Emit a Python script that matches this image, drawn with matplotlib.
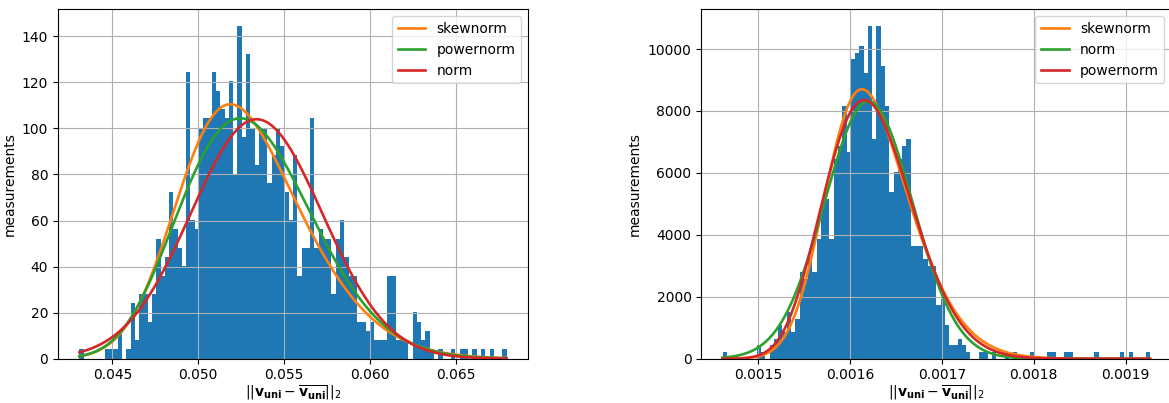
import math
import numpy as np
import matplotlib
matplotlib.use('Agg')
import matplotlib.pyplot as plt

# sample count per run, used to turn bin counts into densities
n_samples = 1000

# left run: 100 bins between min and max of the distances
left_range = (0.04307, 0.06798)
left_counts = np.array([
    1, 0, 0, 0, 0, 0, 1, 1, 1, 3,
    0, 1, 6, 2, 7, 7, 4, 7, 13, 9,
    11, 18, 14, 12, 10, 31, 15, 14, 25, 26,
    26, 31, 29, 27, 26, 30, 20, 36, 24, 33,
    25, 21, 25, 25, 19, 22, 25, 23, 18, 15,
    22, 9, 12, 12, 26, 12, 14, 13, 13, 7,
    13, 15, 11, 9, 9, 4, 4, 3, 4, 2,
    2, 2, 9, 9, 2, 2, 2, 0, 5, 4,
    2, 3, 1, 0, 1, 0, 0, 1, 0, 1,
    1, 0, 1, 0, 1, 0, 1, 0, 0, 1])

# right run
right_range = (0.0014612, 0.0019265)
right_counts = np.array([
    1, 0, 0, 0, 0, 0, 0, 0, 2, 1,
    0, 2, 3, 5, 4, 7, 4, 6, 13, 12,
    15, 13, 18, 23, 24, 18, 30, 32, 38, 31,
    45, 46, 47, 43, 50, 33, 50, 44, 38, 25,
    28, 30, 32, 33, 17, 17, 17, 15, 14, 14,
    8, 9, 5, 2, 2, 3, 2, 1, 0, 0,
    1, 1, 0, 1, 0, 0, 1, 0, 1, 0,
    0, 0, 1, 0, 0, 0, 1, 1, 0, 0,
    1, 1, 0, 0, 0, 0, 0, 1, 0, 0,
    0, 0, 0, 1, 0, 1, 0, 0, 0, 1])

# fitted parameters (shape, loc, scale)
left_fits = [
    ('skewnorm', 2.0, 0.04902, 0.005367),
    ('powernorm', 0.2, 0.04884, 0.00217),
    ('norm', None, 0.0534, 0.003836),
]
right_fits = [
    ('skewnorm', 2.0, 0.0015767, 6.816e-5),
    ('norm', None, 0.00162, 4.8e-5),
    ('powernorm', 0.2, 0.0015701, 2.713e-5),
]

erfc = np.vectorize(math.erfc)


def phi(z):
    return np.exp(-0.5 * z * z) / np.sqrt(2 * np.pi)


def big_phi(z):
    return 0.5 * erfc(-z / np.sqrt(2))


def pdf(name, shape, loc, scale, x):
    z = (x - loc) / scale
    if name == 'norm':
        return phi(z) / scale
    if name == 'skewnorm':
        return 2 * phi(z) * big_phi(shape * z) / scale
    # powernorm
    return shape * phi(z) * big_phi(-z) ** (shape - 1) / scale


def plot_run(ax, rng, counts, fits):
    edges = np.linspace(rng[0], rng[1], len(counts) + 1)
    centers = 0.5 * (edges[:-1] + edges[1:])
    ax.hist(centers, bins=edges, weights=counts / (n_samples * np.diff(edges)))
    x = np.linspace(rng[0], rng[1], 600)
    for name, shape, loc, scale in fits:
        ax.plot(x, pdf(name, shape, loc, scale, x), lw=1.9, label=name)
    ax.grid(True)
    ax.legend(loc='upper right')
    ax.set_ylabel('measurements')
    ax.set_xlabel(r'$||\mathbf{v}_{\mathbf{uni}} - \overline{\mathbf{v}_{\mathbf{uni}}}||_2$',
                  labelpad=1)


fig = plt.figure(figsize=(11.69, 4.03), dpi=100)
W, H = 1169, 403
ax1 = fig.add_axes([58 / W, 44.3 / H, 470 / W, 349.4 / H])
ax2 = fig.add_axes([701.3 / W, 44.3 / H, 470 / W, 349.4 / H])

plot_run(ax1, left_range, left_counts, left_fits)
plot_run(ax2, right_range, right_counts, right_fits)

fig.savefig('out.png', dpi=100)
